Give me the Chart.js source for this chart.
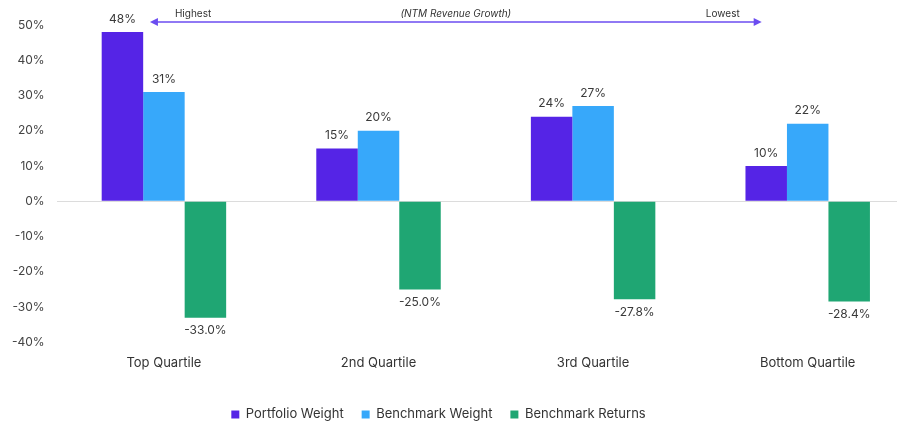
<!DOCTYPE html>
<html>
<head>
<meta charset="utf-8">
<script src="https://cdn.jsdelivr.net/npm/chart.js@4"></script>
<style>
  html, body { margin: 0; padding: 0; background: #fff; overflow: hidden; }
  #wrap { width: 915px; height: 425px; }
</style>
</head>
<body>
<div id="wrap"><canvas id="grafico"></canvas></div>
<script>
const quartis = ['Top Quartile', '2nd Quartile', '3rd Quartile', 'Bottom Quartile'];
const pesoPortfolio = [48, 15, 24, 10];
const pesoBenchmark = [31, 20, 27, 22];
const retornoBenchmark = [-33.0, -25.0, -27.8, -28.4];
const ticksY = [-40, -30, -20, -10, 0, 10, 20, 30, 40, 50];

const cores = {
    portfolio: '#5524E6',
    benchmark: '#37A8FA',
    retorno: '#1FA673',
    seta: '#6B4CF0',
    texto: '#3a3a3a'
};

const FONTE = "Inter, 'Noto Sans', sans-serif";

// rótulos em cima/baixo das barras
const rotulosPlugin = {
    id: 'rotulos',
    afterDatasetsDraw(chart) {
        const ctx = chart.ctx;
        ctx.save();
        ctx.font = '12px ' + FONTE;
        ctx.fillStyle = cores.texto;
        ctx.textAlign = 'center';
        chart.data.datasets.forEach((ds, i) => {
            const meta = chart.getDatasetMeta(i);
            meta.data.forEach((bar, j) => {
                const v = ds.data[j];
                const txt = ds.casas ? v.toFixed(ds.casas) + '%' : v + '%';
                if (v >= 0) {
                    ctx.textBaseline = 'bottom';
                    ctx.fillText(txt, bar.x, bar.y - 7);
                } else {
                    ctx.textBaseline = 'top';
                    ctx.fillText(txt, bar.x, bar.y + 7);
                }
            });
        });
        ctx.restore();
    }
};

// seta "Highest ... Lowest" no topo
const setaPlugin = {
    id: 'seta',
    afterLayout(chart) {
        // legenda um pouco à esquerda e mais abaixo, como no original
        const lg = chart.legend;
        lg.left -= 19; lg.right -= 19;
        lg.top += 6; lg.bottom += 6;
    },
    afterDraw(chart) {
        const ctx = chart.ctx;
        const x = chart.scales.x;
        const topo = chart.chartArea.top;
        const x1 = x.getPixelForValue(0) - 14;
        const x2 = x.getPixelForValue(3) - 46;
        const y = topo - 3;
        ctx.save();
        ctx.strokeStyle = cores.seta;
        ctx.fillStyle = cores.seta;
        ctx.lineWidth = 1.5;
        ctx.beginPath();
        ctx.moveTo(x1 + 4, y);
        ctx.lineTo(x2 - 4, y);
        ctx.stroke();
        ctx.beginPath();
        ctx.moveTo(x1, y);
        ctx.lineTo(x1 + 8, y - 4);
        ctx.lineTo(x1 + 8, y + 4);
        ctx.closePath();
        ctx.fill();
        ctx.beginPath();
        ctx.moveTo(x2, y);
        ctx.lineTo(x2 - 8, y - 4);
        ctx.lineTo(x2 - 8, y + 4);
        ctx.closePath();
        ctx.fill();

        ctx.fillStyle = '#333';
        ctx.font = '10px ' + FONTE;
        ctx.textBaseline = 'bottom';
        ctx.textAlign = 'left';
        ctx.fillText('Highest', x1 + 25, y - 3);
        ctx.textAlign = 'right';
        ctx.fillText('Lowest', x2 - 22, y - 3);
        ctx.textAlign = 'center';
        ctx.font = 'italic 10px ' + FONTE;
        ctx.fillText('(NTM Revenue Growth)', (x1 + x2) / 2, y - 3);
        ctx.restore();
    }
};

new Chart(document.getElementById('grafico'), {
    type: 'bar',
    data: {
        labels: quartis,
        datasets: [
            { label: 'Portfolio Weight', data: pesoPortfolio, backgroundColor: cores.portfolio },
            { label: 'Benchmark Weight', data: pesoBenchmark, backgroundColor: cores.benchmark },
            { label: 'Benchmark Returns', data: retornoBenchmark, backgroundColor: cores.retorno, casas: 1 }
        ]
    },
    plugins: [rotulosPlugin, setaPlugin],
    options: {
        responsive: true,
        maintainAspectRatio: false,
        animation: false,
        categoryPercentage: 0.58,
        barPercentage: 1,
        layout: { padding: { top: 25, bottom: 0, left: 0, right: 0 } },
        plugins: {
            tooltip: { enabled: false },
            legend: {
                position: 'bottom',
                labels: {
                    color: '#333',
                    font: { family: FONTE, size: 13 },
                    usePointStyle: true,
                    pointStyle: 'rect',
                    boxWidth: 8,
                    boxHeight: 8,
                    padding: 18
                }
            }
        },
        scales: {
            x: {
                grid: { display: false, drawTicks: false },
                border: { display: false },
                ticks: { color: '#333', font: { family: FONTE, size: 13 }, padding: 13 }
            },
            y: {
                min: -40,
                max: 50,
                afterBuildTicks: (scale) => { scale.ticks = ticksY.map(v => ({ value: v })); },
                grid: {
                    drawTicks: false,
                    color: (c) => c.tick && c.tick.value === 0 ? '#dcdcdc' : 'transparent'
                },
                border: { display: false },
                ticks: {
                    color: '#444',
                    font: { family: FONTE, size: 12 },
                    padding: 12,
                    callback: (v) => v + '%'
                }
            }
        }
    }
});
</script>
</body>
</html>
